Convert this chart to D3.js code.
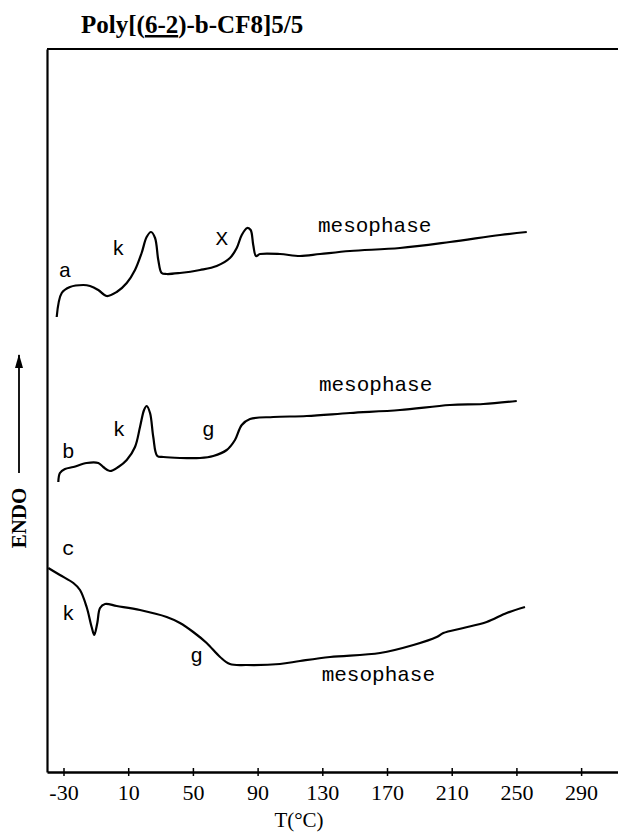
<!DOCTYPE html>
<html>
<head>
<meta charset="utf-8">
<script src="https://cdn.jsdelivr.net/npm/d3@7"></script>
<style>
  html, body { margin: 0; padding: 0; background: #fff; }
  svg { display: block; }
</style>
</head>
<body>
<div id="chart"></div>
<script>
const width = 618;
const height = 834;

const tempTicks = [-30, 10, 50, 90, 130, 170, 210, 250, 290];

// DSC traces: temperature (°C) vs heat flow (arbitrary units, endo up)
const tempA = [-34.2, -31.1, -26.0, -17.8, -13.6, -8.5, -3.3, 2.9, 9.1, 14.2, 18.3, 21.4, 24.1, 26.6, 28.6, 30.7, 33.8, 42.0, 54.4, 64.7, 72.9, 77.1, 80.2, 83.6, 85.7, 87.3, 89.0, 91.5, 103.8, 116.2, 128.6, 147.1, 178.0, 208.9, 239.9, 256.4];
const flowA = [45.5, 47.9, 48.5, 48.7, 48.6, 48.2, 47.6, 48.0, 48.9, 50.2, 51.9, 53.5, 54.0, 53.4, 51.2, 49.9, 49.8, 49.9, 50.2, 50.6, 51.4, 52.4, 53.7, 54.4, 54.2, 52.7, 51.6, 51.8, 51.8, 51.6, 51.8, 52.1, 52.4, 53.0, 53.7, 54.0];

const tempB = [-33.2, -32.2, -29.1, -23.9, -15.7, -8.5, -5.4, -1.3, 3.9, 9.1, 14.2, 17.3, 19.8, 21.4, 23.5, 25.5, 28.0, 31.7, 42.0, 54.4, 62.6, 70.9, 76.0, 80.2, 85.3, 99.7, 120.4, 147.1, 178.0, 208.9, 229.5, 250.2];
const flowB = [29.0, 29.9, 30.3, 30.5, 30.9, 30.9, 30.5, 30.1, 30.5, 31.2, 32.5, 34.5, 36.2, 36.6, 35.9, 33.5, 31.6, 31.5, 31.4, 31.4, 31.6, 32.2, 33.2, 34.7, 35.3, 35.5, 35.6, 35.9, 36.2, 36.7, 36.8, 37.1];

const tempC = [-39.4, -32.2, -23.9, -19.8, -15.7, -12.6, -11.0, -9.1, -7.4, -4.3, 2.9, 17.3, 33.8, 42.0, 50.2, 58.5, 66.8, 72.9, 83.3, 103.8, 116.2, 134.8, 165.7, 186.3, 200.7, 204.8, 217.2, 231.6, 244.0, 255.3];
const flowC = [20.4, 19.7, 18.9, 18.2, 16.5, 14.5, 13.7, 14.9, 16.4, 16.8, 16.6, 16.2, 15.5, 14.9, 14.0, 12.9, 11.5, 10.8, 10.7, 10.8, 11.1, 11.5, 11.9, 12.7, 13.5, 13.9, 14.4, 15.0, 15.9, 16.5];

// annotation texts and where they sit (T, flow)
const labelText = ['a', 'k', 'X', 'mesophase', 'b', 'k', 'g', 'mesophase', 'c', 'k', 'g', 'mesophase'];
const labelTemp = [-29.1, 3.9, 67.8, 127.3, -27.0, 4.3, 59.5, 127.9, -27.0, -27.0, 52.3, 129.6];
const labelFlow = [49.5, 51.7, 52.7, 54.0, 31.4, 33.6, 33.6, 38.1, 21.7, 15.2, 11.0, 9.1];

const svg = d3.select('#chart').append('svg')
  .attr('width', width)
  .attr('height', height);

const x = d3.scaleLinear().domain([-40.2, 312.8]).range([47, 618]);
const y = d3.scaleLinear().domain([0, 72.3]).range([772, 49]);

// title
const title = svg.append('text')
  .attr('x', 81)
  .attr('y', 33)
  .attr('font-family', '"Liberation Serif", serif')
  .attr('font-weight', 'bold')
  .attr('font-size', 25)
  .attr('fill', '#000');
title.append('tspan').text('Poly[(');
title.append('tspan').attr('text-decoration', 'underline').text('6-2');
title.append('tspan').text(')-b-CF8]5/5');

// frame: top line, left spine
svg.append('line')
  .attr('x1', x.range()[0]).attr('x2', x.range()[1])
  .attr('y1', y.range()[1]).attr('y2', y.range()[1])
  .attr('stroke', '#000').attr('stroke-width', 2.2);

svg.append('g')
  .attr('transform', `translate(${x.range()[0]},0)`)
  .call(d3.axisLeft(y).tickValues([]).tickSizeOuter(0))
  .call(g => g.select('.domain').attr('stroke-width', 2.2));

// bottom axis
const xAxis = svg.append('g')
  .attr('transform', `translate(0,${y.range()[0]})`)
  .call(d3.axisBottom(x).tickValues(tempTicks).tickSizeOuter(0).tickFormat(d3.format('d')));

xAxis.select('.domain').attr('stroke-width', 2.4);
xAxis.selectAll('.tick line').attr('y1', -4).attr('y2', 4).attr('stroke-width', 1.5);
xAxis.selectAll('.tick text')
  .attr('y', 28)
  .attr('dy', null)
  .attr('font-family', '"Liberation Serif", serif')
  .attr('font-size', 22)
  .attr('fill', '#000')
  .text(d => d < 0 ? '-' + Math.abs(d) : d);

svg.append('text')
  .attr('x', 299)
  .attr('y', 827)
  .attr('text-anchor', 'middle')
  .attr('font-family', '"Liberation Serif", serif')
  .attr('font-size', 21)
  .text('T(°C)');

// ENDO label with arrow
svg.append('defs').append('marker')
  .attr('id', 'arrow')
  .attr('viewBox', '0 0 14 8')
  .attr('refX', 13).attr('refY', 4)
  .attr('markerWidth', 14).attr('markerHeight', 8)
  .attr('markerUnits', 'userSpaceOnUse')
  .attr('orient', 'auto')
  .append('path')
  .attr('d', 'M0,0L14,4L0,8Z')
  .attr('fill', '#000');

svg.append('line')
  .attr('x1', 19).attr('x2', 19)
  .attr('y1', 473).attr('y2', 355)
  .attr('stroke', '#000').attr('stroke-width', 1.8)
  .attr('marker-end', 'url(#arrow)');

svg.append('text')
  .attr('transform', 'translate(26,518) rotate(-90)')
  .attr('text-anchor', 'middle')
  .attr('font-family', '"Liberation Serif", serif')
  .attr('font-weight', 'bold')
  .attr('font-size', 21)
  .text('ENDO');

// traces
const line = d3.line()
  .x(d => x(d[0]))
  .y(d => y(d[1]))
  .curve(d3.curveCatmullRom.alpha(0.5));

const traces = [
  d3.zip(tempA, flowA),
  d3.zip(tempB, flowB),
  d3.zip(tempC, flowC)
];

svg.append('g')
  .selectAll('path')
  .data(traces)
  .join('path')
  .attr('d', line)
  .attr('fill', 'none')
  .attr('stroke', '#000')
  .attr('stroke-width', 2.2)
  .attr('stroke-linejoin', 'round');

// curve annotations
svg.append('g')
  .selectAll('text')
  .data(labelText.map((t, i) => [t, labelTemp[i], labelFlow[i]]))
  .join('text')
  .attr('x', d => x(d[1]))
  .attr('y', d => y(d[2]))
  .attr('text-anchor', d => d[0].length > 1 ? 'start' : 'middle')
  .attr('font-family', '"Liberation Mono", monospace')
  .attr('font-size', 21)
  .attr('fill', '#000')
  .text(d => d[0]);
</script>
</body>
</html>
